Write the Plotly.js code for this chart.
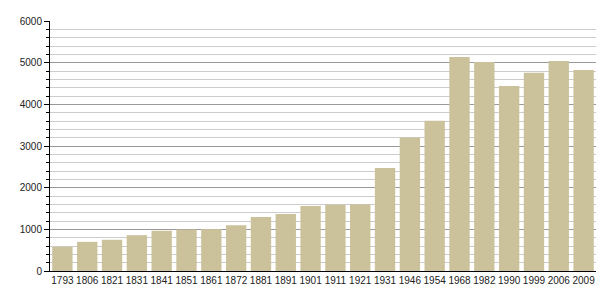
<!DOCTYPE html>
<html><head><meta charset="utf-8">
<script src="https://cdn.plot.ly/plotly-3.0.1.min.js"></script>
<style>html,body{margin:0;padding:0;background:#fff;}</style>
</head><body>
<div id="chart" style="width:605px;height:300px;"></div>
<script>
const years = ["1793","1806","1821","1831","1841","1851","1861","1872","1881","1891","1901","1911","1921","1931","1946","1954","1968","1982","1990","1999","2006","2009"];
const population = [580,700,750,860,965,995,1005,1100,1295,1370,1560,1590,1605,2470,3205,3605,5135,5015,4440,4760,5040,4825];

Plotly.newPlot('chart', [{
  type: 'bar',
  x: years,
  y: population,
  marker: {color: '#cbc29b'},
  hoverinfo: 'x+y'
}], {
  width: 605, height: 300,
  margin: {l: 50, r: 9, t: 21, b: 29},
  paper_bgcolor: '#fff', plot_bgcolor: '#fff',
  bargap: 0.18,
  showlegend: false,
  font: {family: 'Liberation Sans, Arial, sans-serif', size: 10, color: '#222'},
  xaxis: {
    type: 'category',
    showline: true, linecolor: '#000', linewidth: 1,
    ticks: '', showgrid: false,
    tickangle: 0,
    tickfont: {size: 10}
  },
  yaxis: {
    range: [0, 6000], dtick: 1000,
    showline: true, linecolor: '#000', linewidth: 1,
    ticks: 'outside', ticklen: 5, tickcolor: '#000',
    gridcolor: '#999', gridwidth: 1,
    zeroline: false,
    tickfont: {size: 10},
    minor: {dtick: 200, showgrid: true, gridcolor: '#ccc', gridwidth: 1, ticks: 'outside', ticklen: 3, tickcolor: '#000'}
  }
}, {displayModeBar: false, staticPlot: true});
</script>
</body></html>
